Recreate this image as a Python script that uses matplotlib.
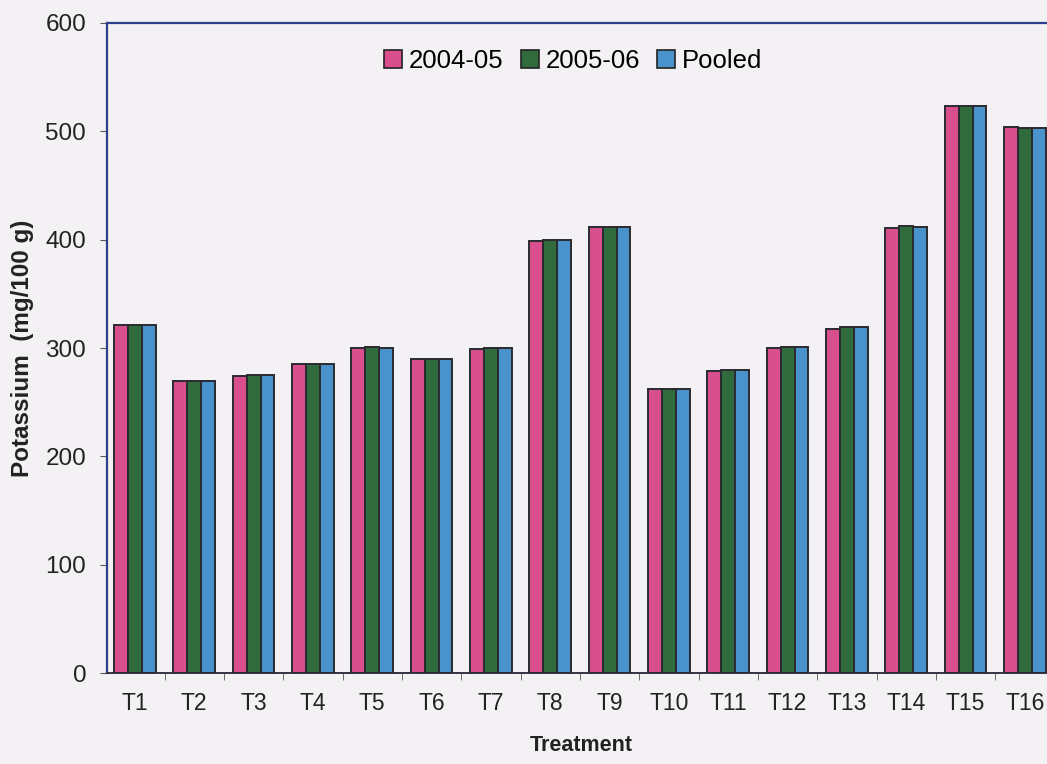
import matplotlib
matplotlib.use("Agg")
import matplotlib.pyplot as plt
import numpy as np

treatments = ["T1", "T2", "T3", "T4", "T5", "T6", "T7", "T8",
              "T9", "T10", "T11", "T12", "T13", "T14", "T15", "T16"]
y2004 = [321, 270, 274, 285, 300, 290, 299, 399, 412, 262, 279, 300, 318, 411, 523, 504]
y2005 = [321, 270, 275, 285, 301, 290, 300, 400, 412, 262, 280, 301, 319, 413, 523, 503]
pooled = [321, 270, 275, 285, 300, 290, 300, 400, 412, 262, 280, 301, 319, 412, 523, 503]
series_names = ["2004-05", "2005-06", "Pooled"]
yticks = [0, 100, 200, 300, 400, 500, 600]

colors = ["#d94f8e", "#2f6b3c", "#4a92cc"]
bg = "#f3f1f3"

plt.rcParams['font.family'] = ['Liberation Sans', 'DejaVu Sans']
fig = plt.figure(figsize=(10.47, 7.64), dpi=100, facecolor=bg)
ax = fig.add_axes([0.1022, 0.1191, 0.905, 0.8508])
ax.set_facecolor(bg)

x = np.arange(len(treatments))
w = 0.235
for k, (vals, c, name) in enumerate(zip([y2004, y2005, pooled], colors, series_names)):
    ax.bar(x + (k - 1) * w, vals, width=w, color=c, edgecolor="#2a2a30",
           linewidth=1.4, label=name, zorder=3)

ax.set_xlim(-0.47, 15.5)
ax.set_ylim(0, 600)
ax.set_yticks(yticks)
ax.set_yticklabels([str(t) for t in yticks], fontsize=17.5, color="#222222")
ax.set_xticks(x)
ax.set_xticklabels(treatments, fontsize=16.5, color="#222222")
ax.set_xticks(x[:-1] + 0.5, minor=True)
ax.tick_params(axis='x', which='major', length=0, pad=14)
ax.tick_params(axis='x', which='minor', length=5, color="#555555")
ax.tick_params(axis='y', length=5, color="#555555", pad=10)

for s in ["left", "top"]:
    ax.spines[s].set_color("#2b3f8c")
    ax.spines[s].set_linewidth(1.6)
ax.spines["bottom"].set_color("#333344")
ax.spines["bottom"].set_linewidth(1.4)
ax.spines["right"].set_visible(False)

ax.set_ylabel("Potassium  (mg/100 g)", fontsize=17.5, fontweight="bold",
              color="#222222", labelpad=8)
ax.set_xlabel("Treatment", fontsize=15.5, fontweight="bold", color="#222222", labelpad=14)

leg = ax.legend(loc="upper center", bbox_to_anchor=(0.492, 0.995), ncol=3, frameon=False,
                fontsize=18.5, handlelength=0.7, handleheight=0.7, handletextpad=0.27,
                columnspacing=0.66)
for h in leg.legend_handles:
    h.set_edgecolor("#222222")
    h.set_linewidth(1.2)

fig.savefig("out.png", dpi=100, facecolor=bg)
